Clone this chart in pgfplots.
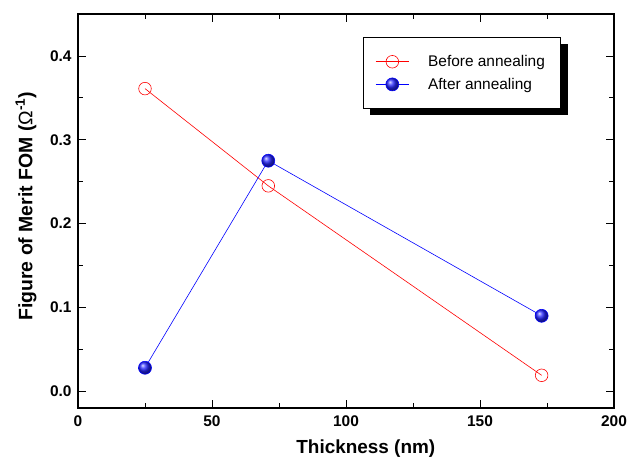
\documentclass[border=0pt]{standalone}
\usepackage{fontspec}
\setmainfont{Liberation Sans}
\usepackage{pgfplots}
\pgfplotsset{compat=1.18}
\begin{document}
\begin{tikzpicture}
\begin{axis}[
 at={(0,0)}, anchor=south west,
 scale only axis, width=536bp, height=394bp,
 xmin=0, xmax=200, ymin=-0.02, ymax=0.45,
 xtick={0,50,100,150,200}, ytick={0,0.1,0.2,0.3,0.4},
 minor x tick num=1, minor y tick num=1,
 tick align=inside,
 major tick length=8bp, minor tick length=5bp,
 tick style={black, line width=0.8pt},
 axis line style={line width=1.1pt},
 /pgf/number format/assume math mode=true,
 every tick label/.append style={font=\fontsize{15.5}{17}\selectfont\bfseries},
 xticklabel style={yshift=-4bp},
 yticklabel style={xshift=-3bp, /pgf/number format/.cd, fixed, fixed zerofill, precision=1},
 xlabel={Thickness (nm)},
 ylabel={Figure of Merit FOM ({\mdseries Ω}\textsuperscript{-1})},
 xlabel style={font=\fontsize{19}{21}\selectfont\bfseries, at={(axis description cs:0.537,-0.104)}, anchor=center},
 ylabel style={font=\fontsize{19.5}{21}\selectfont\bfseries, at={(axis description cs:-0.097,0.512)}, anchor=center},
 legend style={at={(0.532,0.9416)}, anchor=north west, draw=black, line width=0.8pt,
   fill=white, font=\fontsize{15.5}{18}\selectfont, inner xsep=12bp, inner ysep=16bp, row sep=6bp,
   column sep=0bp},
 legend cell align=left,
 legend image code/.code={%
   \draw (0bp,0bp) -- (33bp,0bp);
   \draw[mark repeat=2, mark phase=2] plot coordinates {(0bp,0bp) (16.5bp,0bp) (33bp,0bp)};},
]
\fill[black] (axis description cs:0.5448,0.7437) rectangle (axis description cs:0.9142,0.9239);
\addplot[red, line width=0.6pt, mark=o, mark size=6.3bp, mark options={fill=white, line width=0.6pt}]
 coordinates {(25,0.361) (71,0.245) (173,0.019)};
\addlegendentry{\makebox[135bp][l]{\hspace{17bp}Before annealing}}
\addplot[blue, line width=0.6pt, mark=ball, mark size=6.5bp, mark options={ball color=blue!85!white}]
 coordinates {(25,0.028) (71,0.275) (173,0.090)};
\addlegendentry{\makebox[135bp][l]{\hspace{17bp}After annealing}}
\end{axis}
\pgfresetboundingbox
\path (-78bp,-51bp) rectangle (552bp,408bp);
\end{tikzpicture}
\end{document}
